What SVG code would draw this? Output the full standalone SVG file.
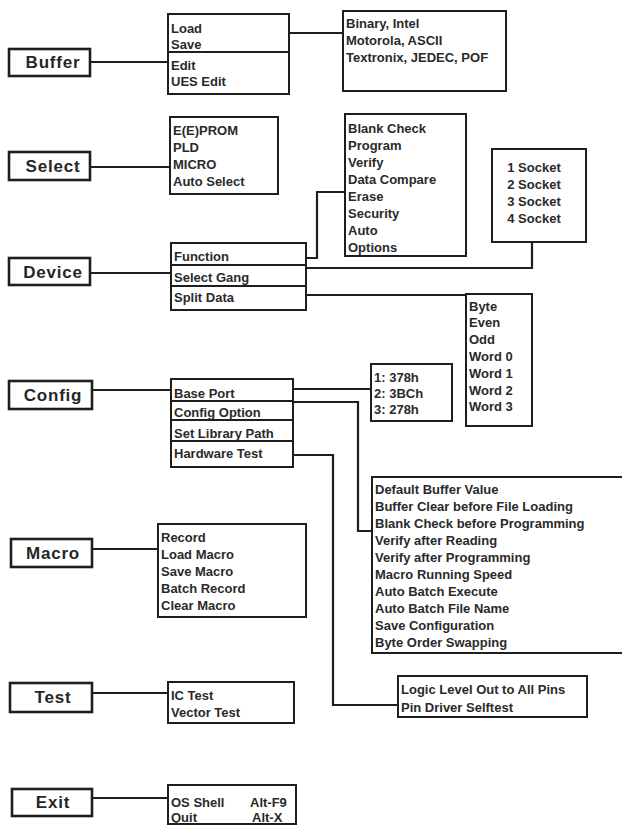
<svg xmlns="http://www.w3.org/2000/svg" width="622" height="827" viewBox="0 0 622 827">
<style>
.bg{fill:#fff}
.box{fill:#fff;stroke:#1e1e1e;stroke-width:2}
.mbox{fill:#fff;stroke:#1e1e1e;stroke-width:2.6}
.sep{stroke:#1e1e1e;stroke-width:1.8}
.lbl{font-family:"Liberation Sans",Arial,sans-serif;font-size:17px;font-weight:bold;fill:#262626;text-anchor:middle;letter-spacing:0.8px}
.t{font-family:"Liberation Sans",Arial,sans-serif;font-size:13px;font-weight:bold;fill:#2a2a2a}
.tc{font-family:"Liberation Sans",Arial,sans-serif;font-size:13px;font-weight:bold;fill:#2a2a2a;text-anchor:middle}
#connectors path{fill:none;stroke:#1e1e1e;stroke-width:2.2}
</style>
<rect class="bg" x="0" y="0" width="622" height="827"/>
<g id="connectors">
<path d="M90,62 H168"/>
<path d="M90,167 H170"/>
<path d="M90,273 H171"/>
<path d="M92,390 H171"/>
<path d="M92,549 H158"/>
<path d="M92,693 H168"/>
<path d="M92,798 H168"/>
<path d="M289,33 H343"/>
<path d="M306,258 H317 V192 H345"/>
<path d="M306,268 H532 V242"/>
<path d="M306,295 H466"/>
<path d="M293,389 H371"/>
<path d="M293,402 H358 V531 H372"/>
<path d="M293,455 H333 V705 H398"/>
</g>
<g id="buffer"><rect class="mbox" x="9" y="49" width="81" height="27"/><text class="lbl" x="53" y="68">Buffer</text></g>
<g id="select"><rect class="mbox" x="9" y="152" width="81" height="28"/><text class="lbl" x="53" y="172">Select</text></g>
<g id="device"><rect class="mbox" x="9" y="258" width="81" height="27"/><text class="lbl" x="53" y="278">Device</text></g>
<g id="config"><rect class="mbox" x="9" y="381" width="83" height="28"/><text class="lbl" x="53" y="401">Config</text></g>
<g id="macro"><rect class="mbox" x="11" y="539" width="81" height="28"/><text class="lbl" x="53" y="559">Macro</text></g>
<g id="test"><rect class="mbox" x="10" y="683" width="82" height="29"/><text class="lbl" x="53" y="703">Test</text></g>
<g id="exit"><rect class="mbox" x="12" y="789" width="80" height="27"/><text class="lbl" x="53" y="808">Exit</text></g>

<g id="buffer-menu"><rect class="box" x="168" y="14" width="121" height="80"/><line class="sep" x1="168" y1="52" x2="289" y2="52"/>
<text class="t" x="171" y="33">Load</text><text class="t" x="171" y="49">Save</text><text class="t" x="171" y="70">Edit</text><text class="t" x="171" y="86">UES Edit</text></g>
<g id="formats"><rect class="box" x="343" y="11" width="163" height="80"/>
<text class="t" x="346" y="28">Binary, Intel</text><text class="t" x="346" y="45">Motorola, ASCII</text><text class="t" x="346" y="62">Textronix, JEDEC, POF</text></g>

<g id="select-menu"><rect class="box" x="170" y="117" width="108" height="77"/>
<text class="t" x="173" y="134.5">E(E)PROM</text><text class="t" x="173" y="151.5">PLD</text><text class="t" x="173" y="168.5">MICRO</text><text class="t" x="173" y="185.5">Auto Select</text></g>

<g id="device-menu"><rect class="box" x="171" y="243" width="135" height="67"/><line class="sep" x1="171" y1="265" x2="306" y2="265"/><line class="sep" x1="171" y1="286" x2="306" y2="286"/>
<text class="t" x="174" y="261">Function</text><text class="t" x="174" y="282">Select Gang</text><text class="t" x="174" y="302">Split Data</text></g>

<g id="function-menu"><rect class="box" x="345" y="114" width="121" height="142"/>
<text class="t" x="348" y="132.5">Blank Check</text><text class="t" x="348" y="149.6">Program</text><text class="t" x="348" y="166.7">Verify</text><text class="t" x="348" y="183.8">Data Compare</text><text class="t" x="348" y="200.9">Erase</text><text class="t" x="348" y="218">Security</text><text class="t" x="348" y="235.1">Auto</text><text class="t" x="348" y="252.2">Options</text></g>

<g id="gang-menu"><rect class="box" x="492" y="149" width="94" height="93"/>
<text class="tc" x="534" y="171.5">1 Socket</text><text class="tc" x="534" y="188.5">2 Socket</text><text class="tc" x="534" y="205.5">3 Socket</text><text class="tc" x="534" y="222.5">4 Socket</text></g>

<g id="split-menu"><rect class="box" x="466" y="294" width="66" height="132"/>
<text class="t" x="469" y="310.5">Byte</text><text class="t" x="469" y="327.3">Even</text><text class="t" x="469" y="344.1">Odd</text><text class="t" x="469" y="360.9">Word 0</text><text class="t" x="469" y="377.7">Word 1</text><text class="t" x="469" y="394.5">Word 2</text><text class="t" x="469" y="411.3">Word 3</text></g>

<g id="config-menu"><rect class="box" x="171" y="379" width="122" height="88"/><line class="sep" x1="171" y1="401" x2="293" y2="401"/><line class="sep" x1="171" y1="420" x2="293" y2="420"/><line class="sep" x1="171" y1="441" x2="293" y2="441"/>
<text class="t" x="174" y="397.5">Base Port</text><text class="t" x="174" y="417">Config  Option</text><text class="t" x="174" y="437.5">Set Library Path</text><text class="t" x="174" y="457.5">Hardware Test</text></g>

<g id="port-menu"><rect class="box" x="371" y="364" width="81" height="57"/>
<text class="t" x="374" y="381.5">1: 378h</text><text class="t" x="374" y="397.5">2: 3BCh</text><text class="t" x="374" y="413.5">3: 278h</text></g>

<g id="option-menu"><rect class="box" x="372" y="477" width="262" height="176"/>
<text class="t" x="375" y="493.5">Default Buffer Value</text><text class="t" x="375" y="510.5">Buffer Clear before File Loading</text><text class="t" x="375" y="527.5">Blank Check before Programming</text><text class="t" x="375" y="544.5">Verify after Reading</text><text class="t" x="375" y="561.5">Verify after Programming</text><text class="t" x="375" y="578.5">Macro Running Speed</text><text class="t" x="375" y="595.5">Auto Batch Execute</text><text class="t" x="375" y="612.5">Auto Batch File Name</text><text class="t" x="375" y="629.5">Save Configuration</text><text class="t" x="375" y="646.5">Byte Order Swapping</text></g>

<g id="hwtest-menu"><rect class="box" x="398" y="676" width="189" height="41"/>
<text class="t" x="401" y="693.5">Logic Level Out to All Pins</text><text class="t" x="401" y="711.5">Pin Driver Selftest</text></g>

<g id="macro-menu"><rect class="box" x="158" y="524" width="148" height="93"/>
<text class="t" x="161" y="541.5">Record</text><text class="t" x="161" y="558.5">Load Macro</text><text class="t" x="161" y="575.5">Save Macro</text><text class="t" x="161" y="592.5">Batch Record</text><text class="t" x="161" y="609.5">Clear Macro</text></g>

<g id="test-menu"><rect class="box" x="168" y="682" width="126" height="41"/>
<text class="t" x="171" y="699.5">IC Test</text><text class="t" x="171" y="716.5">Vector Test</text></g>

<g id="exit-menu"><rect class="box" x="168" y="785" width="128" height="39"/>
<text class="t" x="171" y="806.5">OS Shell</text><text class="t" x="250" y="806.5">Alt-F9</text><text class="t" x="171" y="822">Quit</text><text class="t" x="252" y="822">Alt-X</text></g>
</svg>
